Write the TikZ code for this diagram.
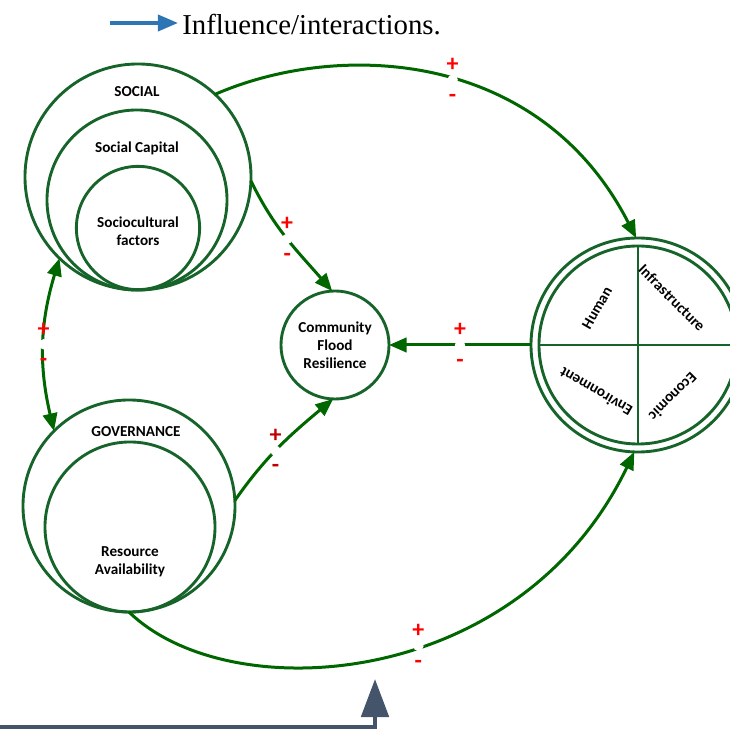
\documentclass[tikz,border=0pt]{standalone}
\usepackage{fontspec}
\setmainfont{Liberation Serif}
\newfontfamily\calibri{Carlito}
\usepackage{xcolor}
\usepackage{tikz}
\usetikzlibrary{positioning, arrows.meta}

\definecolor{ringgreen}{RGB}{22,100,42}
\definecolor{arrowgreen}{RGB}{0,102,0}
\definecolor{legendblue}{RGB}{46,117,182}
\definecolor{slategrey}{RGB}{68,84,106}
\definecolor{signred}{RGB}{255,0,0}
\definecolor{darkred}{RGB}{192,0,0}

\tikzset{
  ring/.style={circle, draw=ringgreen, line width=0.072cm, inner sep=0pt, outer sep=0pt},
  ringline/.style={draw=ringgreen, line width=0.072cm},
  lbl/.style={font=\calibri\bfseries\fontsize{10.8}{12.8}\selectfont, align=center, inner sep=0pt},
  link/.style={draw=arrowgreen, line width=0.075cm, ->},
  sign/.style={font=\calibri\bfseries\fontsize{17}{17}\selectfont, inner sep=0pt, text height=10pt, text depth=0pt},
  pm/.style 2 args={pos=#1, circle, fill=white, inner sep=0pt, minimum size=0.26cm,
    label={[sign, text=#2]90:+}, label={[sign, text=#2]-90:-}}
}

\begin{document}
\begin{tikzpicture}[x=0.025cm, y=0.025cm, >={Triangle[length=0.44cm, width=0.36cm]}]
  \useasboundingbox (0,0) rectangle (730,730);

  % legend
  \coordinate (legstart) at (110,707);
  \coordinate (legtip) at (178,707);
  \draw[legendblue, line width=0.09cm, -{Triangle[length=0.5cm, width=0.4cm]}] (legstart) -- (legtip);
  \node (legendtext) [anchor=base west, inner sep=0pt] at (182,695) {\fontsize{20.5}{24}\selectfont Influence/interactions.};

  % social circles
  \node (social)  [ring, minimum size=5.65cm] at (138,553) {};
  \node (capital) [ring, minimum size=4.5cm]  at (137,530) {};
  \node (culture) [ring, minimum size=3.08cm] at (138,502) {};
  \node (socialtxt)  [lbl] at (137,638) {SOCIAL};
  \node (capitaltxt) [lbl] at (137,582) {Social Capital};
  \node (culturetxt) [lbl] at (138,499) {Sociocultural\\factors};

  % governance circles
  \node (governance) [ring, minimum size=5.3cm]  at (129,224) {};
  \node (resource)   [ring, minimum size=4.25cm] at (130,203) {};
  \node (govtxt)      [lbl] at (136,298) {GOVERNANCE};
  \node (resourcetxt) [lbl] at (130,168) {Resource\\Availability};

  % community flood resilience
  \node (cfr) [ring, lbl, minimum size=2.7cm] at (335,385) {Community\\Flood\\Resilience};

  % capitals
  \node (capitals) [ring, minimum size=5.35cm] at (638,385) {};
  \node (capin)    [ring, minimum size=4.95cm] at (638,385) {};
  \draw[ringline] (capin.west) -- (capin.east);
  \draw[ringline] (capin.north) -- (capin.south);
  \node (human)   [lbl, rotate=60]   at (597,422) {Human};
  \node (infra)   [lbl, rotate=-45]  at (672,432) {Infrastructure};
  \node (economy) [lbl, rotate=-135] at (673,333) {Economic};
  \node (environ) [lbl, rotate=150]  at (596,338) {Environment};

  % influences
  \draw[link] (social.47) .. controls (340,690) and (540,680) .. (capitals.91)
    node[pm={0.535}{signred}] {};
  \draw[link] (social.-2) to[out=-64, in=131] node[pm={0.5}{signred}] {} (cfr.93);
  \draw[link] (governance.3) to[out=55, in=220] node[pm={0.45}{darkred}] {} (cfr.-92);
  \draw[link] (capitals.west) -- node[pm={0.5}{signred}] {} (cfr.east);
  \draw[link, <->] (social.226) to[bend right=15] node[pm={0.5}{signred}] {} (governance.135);
  \draw[link] (governance.south) .. controls (230,20) and (520,40) .. (capitals.268)
    node[pm={0.57}{signred}] {};

  % bottom arrow
  \coordinate (greystart) at (0,3);
  \coordinate (greyturn) at (375,3);
  \coordinate (greytip) at (375,51);
  \draw[slategrey, line width=0.11cm, -{Triangle[length=0.95cm, width=0.68cm]}] (greystart) -- (greyturn) -- (greytip);
\end{tikzpicture}
\end{document}
